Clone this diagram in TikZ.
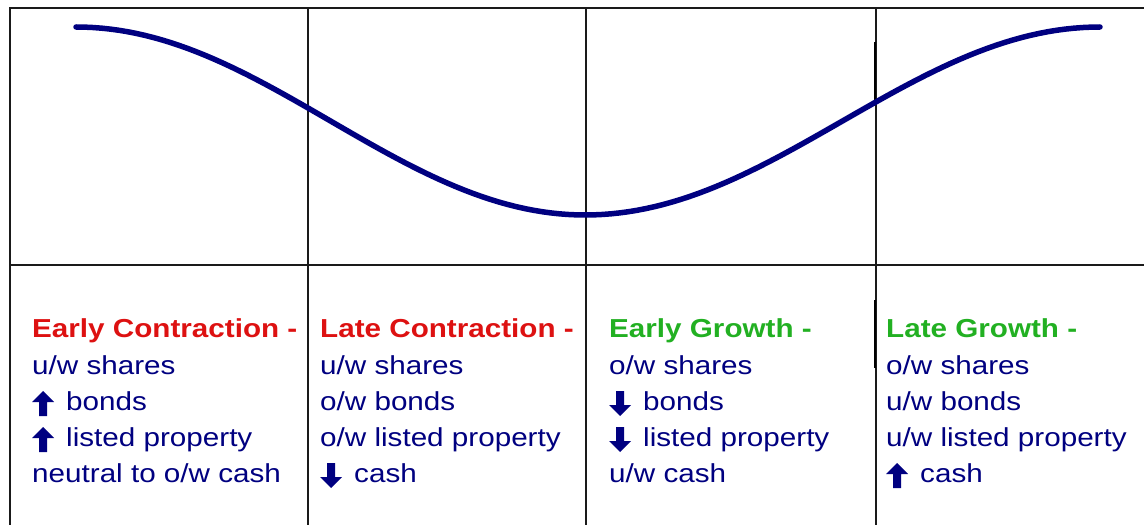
\documentclass[tikz,border=0pt]{standalone}
\usepackage{fontspec}
\usepackage{tikz}
\usetikzlibrary{positioning}
\newfontfamily\panelfont{Liberation Sans}[FakeStretch=1.14]
\definecolor{navy}{HTML}{000080}
\definecolor{ink}{HTML}{1A1A1A}
\definecolor{contr}{HTML}{DD1111}
\definecolor{grow}{HTML}{22B022}
\newcommand{\upmark}{\tikz[x=1bp,y=1bp,baseline=0pt]\fill[navy] (7,-6) -- (15,-6) -- (15,8) -- (22,8) -- (11,19) -- (0,8) -- (7,8) -- cycle;\hspace{12bp}}
\newcommand{\downmark}{\tikz[x=1bp,y=1bp,baseline=0pt]\fill[navy] (7,19) -- (15,19) -- (15,5) -- (22,5) -- (11,-6) -- (0,5) -- (7,5) -- cycle;\hspace{12bp}}
\tikzset{
  grid/.style={draw=ink, line width=1.3bp},
  colbox/.style={
    anchor=base west, inner sep=0pt, align=left,
    font=\panelfont\fontsize{26bp}{36bp}\selectfont, text=navy
  },
  head/.style={font=\bfseries}
}

\begin{document}
\begin{tikzpicture}[x=1bp, y=-1bp,
        wave/.style={draw=navy, line width=5.5bp, line cap=round, line join=round}
      ]
        \useasboundingbox (0,0) rectangle (1144,525);
        \coordinate (tl) at (10,8);
        \coordinate (tr) at (1144,8);
        \coordinate (ml) at (10,265);
        \coordinate (mr) at (1144,265);
        \coordinate (bl) at (10,525);
        \draw[grid] (tr) -- (tl) -- (bl);
        \draw[grid] (ml) -- (mr);
        \foreach \cx in {308,586,876}
          \draw[grid] (\cx,8) -- (\cx,525);
        \draw[draw=black, line width=2bp] (875,42) -- (875,100);
        \draw[draw=black, line width=2bp] (875,300) -- (875,368);
        \draw[wave] plot[domain=76:585, samples=60] (\x, {27+94*(1-cos((\x-76)/509*180))})
                 -- plot[domain=585:1100, samples=60] (\x, {215-94*(1-cos((\x-585)/515*180))});
        \node[colbox] (ec) at (32,482) {{\color{contr}\bfseries Early Contraction -}\\u/w shares\\\upmark bonds\\\upmark listed property\\neutral to o/w cash};
        \node[colbox] (lc) at (320,482) {{\color{contr}\bfseries Late Contraction -}\\u/w shares\\o/w bonds\\o/w listed property\\\downmark cash};
        \node[colbox] (eg) at (609,482) {{\color{grow}\bfseries Early Growth -}\\o/w shares\\\downmark bonds\\\downmark listed property\\u/w cash};
        \node[colbox] (lg) at (886,482) {{\color{grow}\bfseries Late Growth -}\\o/w shares\\u/w bonds\\u/w listed property\\\upmark cash};
      \end{tikzpicture}
\end{document}
